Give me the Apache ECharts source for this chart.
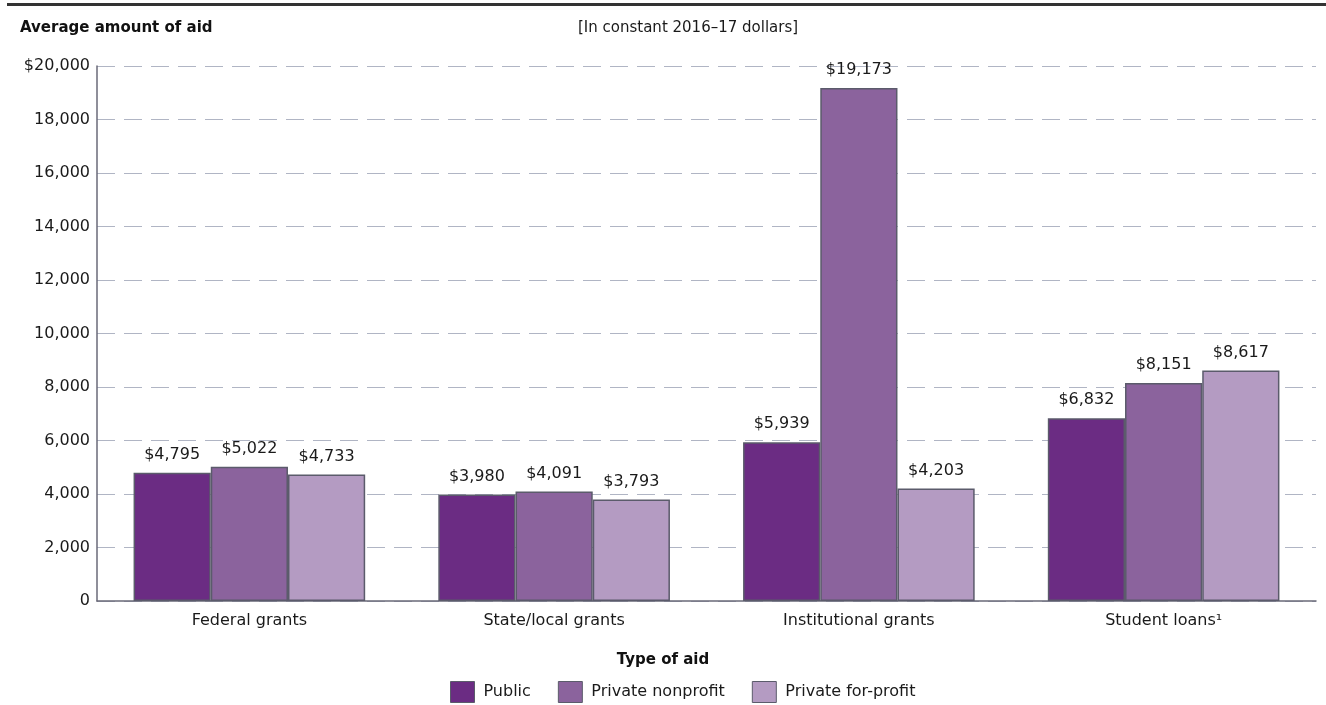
<!DOCTYPE html>
<html>
<head>
<meta charset="utf-8">
<script src="https://cdn.jsdelivr.net/npm/echarts@6/dist/echarts.min.js"></script>
<style>
  html, body { margin: 0; padding: 0; background: #fff; }
  #chart { width: 1326px; height: 705px; }
</style>
</head>
<body>
<div id="chart"></div>
<script>
// Average aid amounts by type of aid and control of institution
const categories = ['Federal grants', 'State/local grants', 'Institutional grants', 'Student loans¹'];
const publicVals = [4795, 3980, 5939, 6832];
const nonprofitVals = [5022, 4091, 19173, 8151];
const forprofitVals = [4733, 3793, 4203, 8617];
const seriesNames = ['Public', 'Private nonprofit', 'Private for-profit'];
const colors = ['#6b2c83', '#8b639d', '#b49bc2'];

const FONT = '"DejaVu Sans", sans-serif';
const chart = echarts.init(document.getElementById('chart'));

function money(v) {
  return '$' + v.toLocaleString('en-US');
}

function makeSeries(name, data, color) {
  return {
    name: name,
    type: 'bar',
    data: data,
    barGap: '0%',
    barCategoryGap: '24%',
    itemStyle: { color: color, borderColor: '#5b5b6b', borderWidth: 1.5 },
    label: {
      show: true,
      position: 'top',
      distance: 10,
      formatter: p => money(p.value),
      color: '#1a1a1a',
      fontFamily: FONT,
      fontSize: 16
    }
  };
}

chart.setOption({
  animation: false,
  color: colors,
  graphic: [
    { type: 'rect', shape: { x: 7, y: 3, width: 1319, height: 3 }, style: { fill: '#333' } },
    { type: 'text', left: 20, top: 21, style: { text: 'Average amount of aid', fontFamily: FONT, fontWeight: 'bold', fontSize: 15, fill: '#111' } },
    { type: 'text', left: 578, top: 21, style: { text: '[In constant 2016–17 dollars]', fontFamily: FONT, fontSize: 15, fill: '#1a1a1a' } },
    { type: 'text', left: 'center', top: 653, style: { text: 'Type of aid', fontFamily: FONT, fontWeight: 'bold', fontSize: 15, fill: '#111' } }
  ],
  legend: {
    top: 676,
    left: 445,
    itemWidth: 24,
    itemHeight: 21,
    itemGap: 27,
    icon: 'rect',
    itemStyle: { borderColor: '#5b5b6b', borderWidth: 1 },
    textStyle: { fontFamily: FONT, fontSize: 16, color: '#1a1a1a', padding: [0, 0, 0, 4] },
    data: seriesNames
  },
  grid: { left: 97, right: 10, top: 66, bottom: 104, containLabel: false },
  xAxis: {
    type: 'category',
    data: categories,
    axisLine: { lineStyle: { color: '#6a6a78', width: 1.5 } },
    axisTick: { show: false },
    axisLabel: { fontFamily: FONT, fontSize: 16, color: '#1a1a1a', margin: 12 }
  },
  yAxis: {
    type: 'value',
    min: 0,
    max: 20000,
    interval: 2000,
    axisLine: { show: true, lineStyle: { color: '#6a6a78', width: 1.5 } },
    axisTick: { show: false },
    splitLine: { lineStyle: { color: '#b0b5c4', type: [18, 9], dashOffset: 0, width: 1 } },
    axisLabel: {
      fontFamily: FONT, fontSize: 16, color: '#1a1a1a', margin: 7,
      formatter: v => v === 20000 ? '$20,000' : v.toLocaleString('en-US')
    }
  },
  series: [
    makeSeries(seriesNames[0], publicVals, colors[0]),
    makeSeries(seriesNames[1], nonprofitVals, colors[1]),
    makeSeries(seriesNames[2], forprofitVals, colors[2])
  ]
});
</script>
</body>
</html>
